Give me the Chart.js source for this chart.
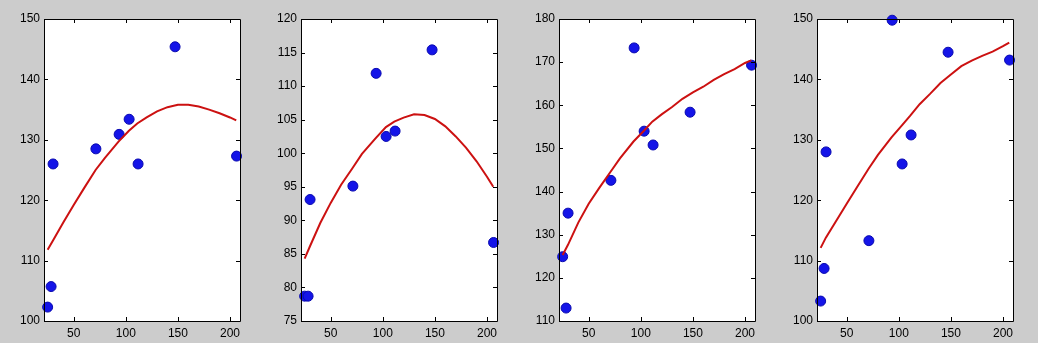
<!DOCTYPE html>
<html>
<head>
<meta charset="utf-8">
<script src="https://cdn.jsdelivr.net/npm/chart.js@4.4.1/dist/chart.umd.min.js"></script>
<style>
  html, body { margin: 0; padding: 0; background: #cccccc; width: 1038px; height: 343px; overflow: hidden; }
  canvas { position: absolute; top: 0; }
</style>
</head>
<body>
<canvas id="c1"></canvas>
<canvas id="c2"></canvas>
<canvas id="c3"></canvas>
<canvas id="c4"></canvas>
<script>
// ---- data ----
const xTicks = [50, 100, 150, 200];
const xValues = [25, 28.3, 30.2, 71.3, 93.6, 103.2, 111.8, 147.3, 206.3];

const series1 = [102.3, 105.7, 126.0, 128.5, 130.9, 133.4, 126.0, 145.4, 127.3];
const series2 = [78.7, 78.7, 93.1, 95.1, 111.9, 102.5, 103.3, 115.4, 86.7];
const series3 = [124.9, 113.0, 135.0, 142.6, 173.3, 154.0, 150.8, 158.4, 169.3];
const series4 = [103.3, 108.7, 128.0, 113.3, 149.8, 126.0, 130.8, 144.5, 143.2];

const fitX  = [25, 30, 40, 50, 60, 71, 80, 93, 103, 111, 120, 130, 140, 150, 160, 170, 180, 190, 200, 206];
const fit1Y = [111.8, 113.3, 116.3, 119.2, 122.0, 125.0, 127.0, 129.7, 131.5, 132.7, 133.7, 134.7, 135.4, 135.8, 135.8, 135.5, 135.0, 134.4, 133.7, 133.2];
const fit2Y = [84.3, 86.1, 89.6, 92.6, 95.3, 97.8, 99.9, 102.2, 103.9, 104.7, 105.3, 105.8, 105.7, 105.1, 104.0, 102.5, 100.8, 98.8, 96.5, 95.0];
const fit3Y = [125.3, 127.6, 132.8, 137.2, 140.8, 144.6, 147.7, 151.6, 154.1, 156.2, 157.9, 159.6, 161.5, 163.0, 164.3, 165.9, 167.2, 168.4, 169.8, 170.4];
const fit4Y = [112.1, 113.8, 116.6, 119.4, 122.2, 125.2, 127.5, 130.4, 132.4, 134.0, 135.9, 137.6, 139.4, 140.8, 142.2, 143.1, 143.9, 144.6, 145.5, 146.1];

const yTicks1 = [100, 110, 120, 130, 140, 150];
const yTicks2 = [75, 80, 85, 90, 95, 100, 105, 110, 115, 120];
const yTicks3 = [110, 120, 130, 140, 150, 160, 170, 180];
const yTicks4 = [100, 110, 120, 130, 140, 150];

const xMin = 21.5, xMax = 209.6;

// ---- layout ----
const plotLefts = [44, 301, 559, 817];
const plotW = 196, plotTop = 19, plotBottom = 321, H = 343;
const axisW = 44, padR = 14;

const framePlugin = {
  id: 'frame',
  beforeDatasetsDraw(chart) {
    const { ctx, chartArea: a } = chart;
    ctx.save();
    ctx.fillStyle = '#ffffff';
    ctx.fillRect(a.left, a.top, a.right - a.left, a.bottom - a.top);
    ctx.restore();
  },
  afterDatasetsDraw(chart) {
    const { ctx, chartArea: a, scales } = chart;
    const tl = 4;
    ctx.save();
    ctx.strokeStyle = '#000000';
    ctx.lineWidth = 1;
    ctx.beginPath();
    ctx.rect(a.left + 0.5, a.top + 0.5, a.right - a.left, a.bottom - a.top);
    scales.x.ticks.forEach(t => {
      const px = Math.round(scales.x.getPixelForValue(t.value)) + 0.5;
      ctx.moveTo(px, a.bottom); ctx.lineTo(px, a.bottom - tl);
      ctx.moveTo(px, a.top); ctx.lineTo(px, a.top + tl);
    });
    scales.y.ticks.forEach(t => {
      const py = Math.round(scales.y.getPixelForValue(t.value)) + 0.5;
      ctx.moveTo(a.left, py); ctx.lineTo(a.left + tl, py);
      ctx.moveTo(a.right, py); ctx.lineTo(a.right - tl, py);
    });
    ctx.stroke();
    ctx.restore();
  }
};

function makeChart(id, idx, series, fitY, yTicks) {
  const cv = document.getElementById(id);
  const w = axisW + plotW + padR;
  cv.width = w; cv.height = H;
  cv.style.left = (plotLefts[idx] - axisW) + 'px';
  cv.style.width = w + 'px'; cv.style.height = H + 'px';
  const font = { family: '"Liberation Sans", Arial, Helvetica, sans-serif', size: 12 };
  new Chart(cv, {
    type: 'scatter',
    data: {
      datasets: [
        {
          type: 'line',
          data: fitX.map((x, i) => ({ x, y: fitY[i] })),
          borderColor: '#cc1111',
          borderWidth: 2,
          pointRadius: 0,
          fill: false,
          tension: 0,
          clip: false
        },
        {
          data: xValues.map((x, i) => ({ x, y: series[i] })),
          backgroundColor: '#1414e8',
          borderColor: '#0a0ab0',
          borderWidth: 1,
          pointRadius: 5,
          clip: false
        }
      ]
    },
    options: {
      responsive: false,
      devicePixelRatio: 1,
      animation: false,
      events: [],
      layout: { padding: { top: plotTop, right: padR, left: 0, bottom: 0 } },
      plugins: { legend: { display: false }, tooltip: { enabled: false } },
      scales: {
        x: {
          type: 'linear', min: xMin, max: xMax,
          grid: { display: false, drawTicks: false },
          border: { display: false },
          afterBuildTicks: s => { s.ticks = xTicks.map(v => ({ value: v })); },
          afterFit: s => { s.height = H - plotBottom; },
          ticks: { font, color: '#000', padding: 5, maxRotation: 0, autoSkip: false }
        },
        y: {
          type: 'linear', min: yTicks[0], max: yTicks[yTicks.length - 1],
          grid: { display: false, drawTicks: false },
          border: { display: false },
          afterBuildTicks: s => { s.ticks = yTicks.map(v => ({ value: v })); },
          afterFit: s => { s.width = axisW; },
          ticks: { font, color: '#000', padding: 4, autoSkip: false }
        }
      }
    },
    plugins: [framePlugin]
  });
}

makeChart('c1', 0, series1, fit1Y, yTicks1);
makeChart('c2', 1, series2, fit2Y, yTicks2);
makeChart('c3', 2, series3, fit3Y, yTicks3);
makeChart('c4', 3, series4, fit4Y, yTicks4);
</script>
</body>
</html>
